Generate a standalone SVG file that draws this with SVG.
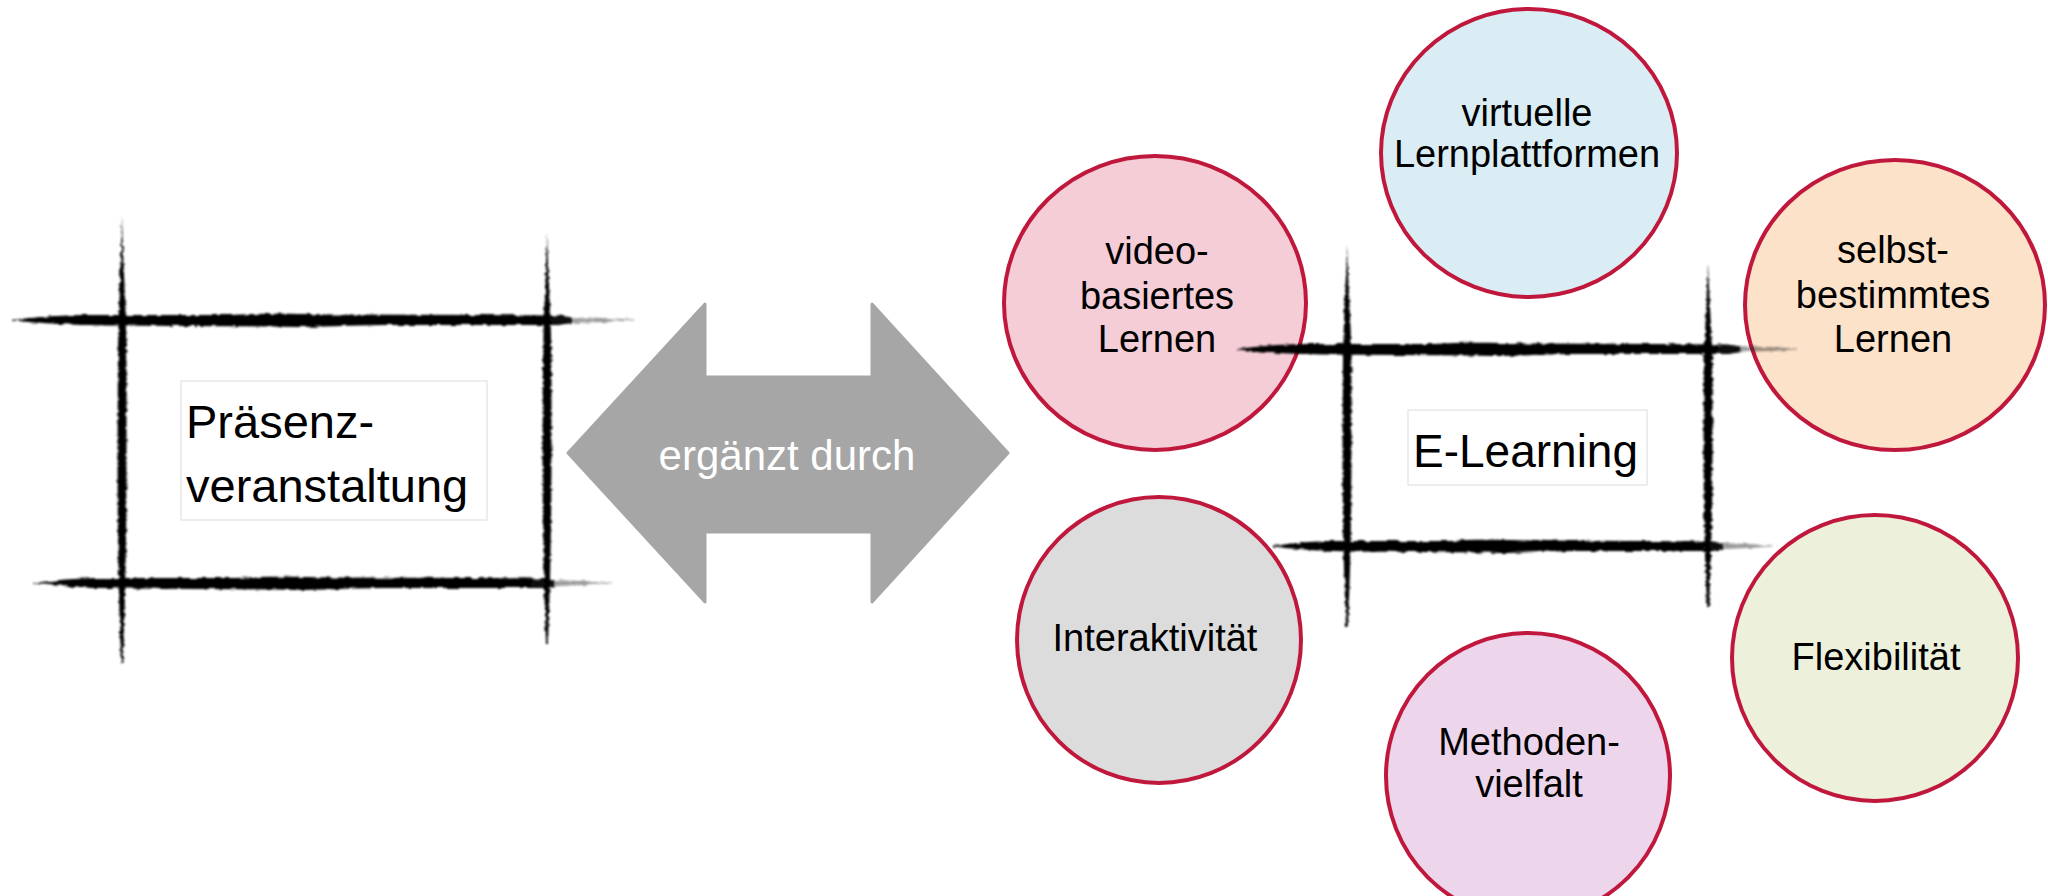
<svg xmlns="http://www.w3.org/2000/svg" xmlns:xlink="http://www.w3.org/1999/xlink" width="2048" height="896" viewBox="0 0 2048 896">
<style>
.bubble{stroke:#C0183C;stroke-width:4}
.ctext{font-family:"Liberation Sans",Arial,sans-serif;font-size:38px;fill:#000;text-anchor:middle}
.btext{font-family:"Liberation Sans",Arial,sans-serif;fill:#000}
.tbox{fill:#fff;stroke:#e2e2e2;stroke-width:1.2}
.ink{fill:#000}
.tail{fill:#222;fill-opacity:0.45}
</style>
<defs>
<filter id="rough" x="-5%" y="-10%" width="110%" height="120%">
<feTurbulence type="fractalNoise" baseFrequency="0.12 0.3" numOctaves="2" seed="4" result="n"/>
<feDisplacementMap in="SourceGraphic" in2="n" scale="4" xChannelSelector="R" yChannelSelector="G" result="d"/>
<feGaussianBlur in="d" stdDeviation="0.9"/>
</filter>
<g id="hline">
<path class="ink" d="M0,0 C3,-2 6,-4.5 12,-5 L35,-5 C40,-7 45,-6.5 52,-5.5 L75,-5 L88,-4.5 L90,-2.5 L90,3 L88,5 L60,5 C52,5.5 47,8 42,6.5 L15,5.5 C8,5 4,2.5 0,0.8 Z"/>
<path class="tail" d="M86,-3.5 L95,-2 L100,-0.6 L100,0.6 L95,2 L86,4 Z"/>
</g>
<g id="vline">
<path class="ink" d="M0,0 C-1,10 -3.5,20 -4,30 L-4.5,55 C-4.5,65 -4,75 -3,85 L-1,100 L1,100 L3,85 C4,75 4.5,65 4.5,55 L4.5,30 C4,20 1,10 0,0 Z"/>
</g>
</defs>
<rect width="2048" height="896" fill="#fff"/>

<g id="connectors">
<path d="M568,453 L705,304 L705,377 L872,377 L872,304 L1008,453 L872,602 L872,532 L705,532 L705,602 Z" fill="#A6A6A6" stroke="#A6A6A6" stroke-width="3" stroke-linejoin="round"/>
<text x="787" y="470" font-family="Liberation Sans,Arial,sans-serif" font-size="42" fill="#fff" text-anchor="middle">ergänzt durch</text>
</g>

<g id="node-virtuelle">
<ellipse class="bubble" cx="1529" cy="153" rx="148" ry="144" fill="#DAEDF4"/>
<text class="ctext" x="1527" y="126">virtuelle</text>
<text class="ctext" x="1527" y="167">Lernplattformen</text>
</g>
<g id="node-video">
<ellipse class="bubble" cx="1155" cy="303" rx="151" ry="147" fill="#F5CDD6"/>
<text class="ctext" x="1157" y="264">video-</text>
<text class="ctext" x="1157" y="309">basiertes</text>
<text class="ctext" x="1157" y="352">Lernen</text>
</g>
<g id="node-selbst">
<ellipse class="bubble" cx="1895" cy="305" rx="150" ry="145" fill="#FDE2CA"/>
<text class="ctext" x="1893" y="263">selbst-</text>
<text class="ctext" x="1893" y="308">bestimmtes</text>
<text class="ctext" x="1893" y="352">Lernen</text>
</g>
<g id="node-interaktivitaet">
<ellipse class="bubble" cx="1159" cy="640" rx="142" ry="143" fill="#DCDCDC"/>
<text class="ctext" x="1155" y="651">Interaktivität</text>
</g>
<g id="node-methoden">
<ellipse class="bubble" cx="1528" cy="776" rx="142" ry="143" fill="#EDD5EC"/>
<text class="ctext" x="1529" y="755">Methoden-</text>
<text class="ctext" x="1529" y="797">vielfalt</text>
</g>
<g id="node-flexibilitaet">
<ellipse class="bubble" cx="1875" cy="658" rx="143" ry="143" fill="#EDF0DA"/>
<text class="ctext" x="1876" y="670">Flexibilität</text>
</g>

<g id="node-praesenz">
<g filter="url(#rough)">
<use xlink:href="#hline" transform="translate(12,320) scale(6.22,1)"/>
<use xlink:href="#hline" transform="translate(33,583) scale(5.79,1)"/>
<use xlink:href="#vline" transform="translate(122,217) scale(1,4.46)"/>
<use xlink:href="#vline" transform="translate(547,233) scale(1,4.10)"/>
</g>
<rect class="tbox" x="181" y="381" width="306" height="139"/>
<text class="btext" x="186" y="438" font-size="47">Präsenz-</text>
<text class="btext" x="186" y="502" font-size="47">veranstaltung</text>
</g>

<g id="node-elearning">
<g filter="url(#rough)">
<use xlink:href="#hline" transform="translate(1238,349) scale(5.58,1)"/>
<use xlink:href="#hline" transform="translate(1273,546) scale(5.0,1)"/>
<use xlink:href="#vline" transform="translate(1347,245) scale(1,3.82)"/>
<use xlink:href="#vline" transform="translate(1708,263) scale(1,3.44)"/>
</g>
<rect class="tbox" x="1408" y="410" width="239" height="75"/>
<text class="btext" x="1413" y="467" font-size="46">E-Learning</text>
</g>
</svg>
